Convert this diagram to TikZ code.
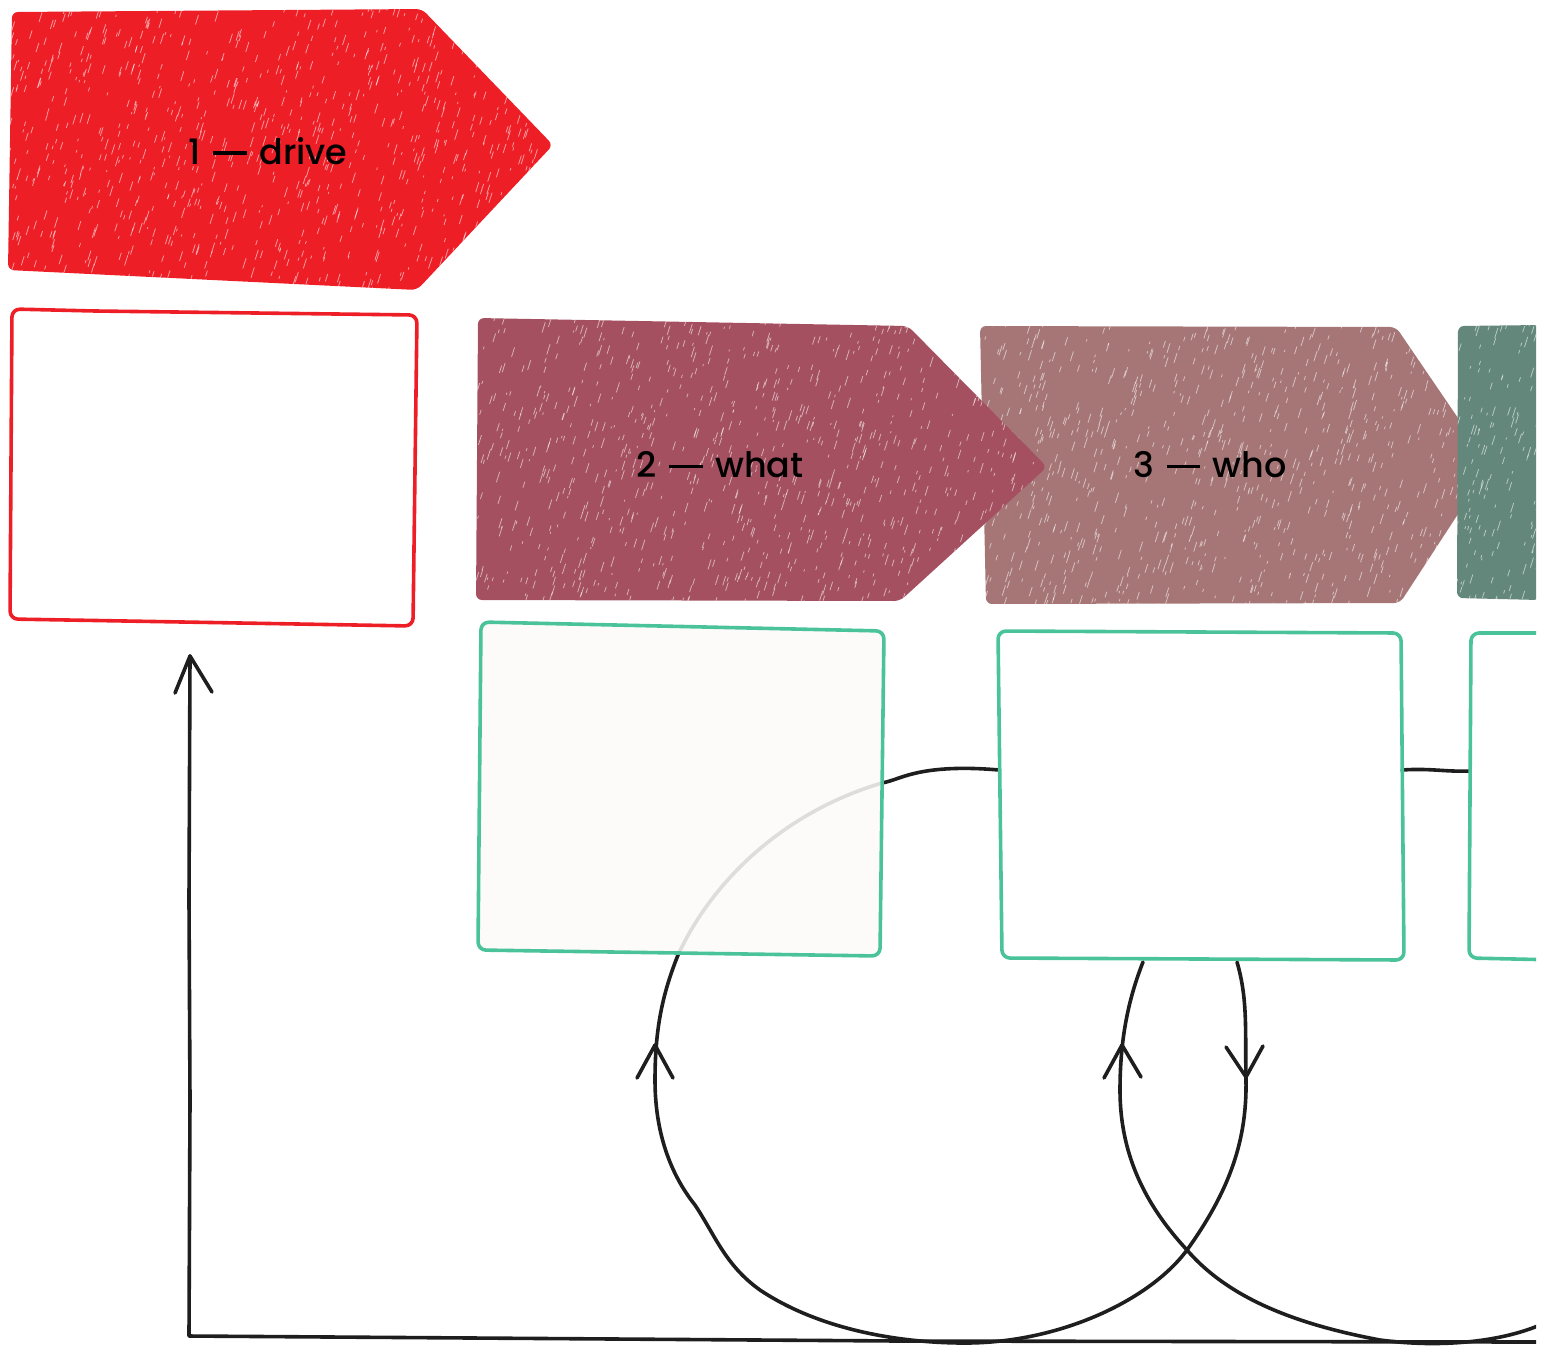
\documentclass[tikz,border=0pt]{standalone}
\usepackage{fontspec}
\setmainfont{Poppins}
\newfontfamily\lblfont{Poppins Medium}
\definecolor{redc}{HTML}{EE1E27}
\definecolor{whatc}{HTML}{A45060}
\definecolor{whoc}{HTML}{A67677}
\definecolor{greenc}{HTML}{63877A}
\definecolor{tealc}{HTML}{4AC39B}
\definecolor{ink}{HTML}{1E1E1E}
\definecolor{paper}{HTML}{FBFAF8}
\newcommand\crayontex[5]{%
  \foreach \k in {1,...,#5}{%
    \pgfmathsetmacro\cx{#1+rnd*#3}%
    \pgfmathsetmacro\cy{#2+rnd*#4}%
    \pgfmathsetmacro\cl{2+rnd*9}%
    \draw[white, opacity=0.55, line width=0.4pt] (\cx,\cy) -- ++(0.3*\cl,-0.95*\cl);
  }}
\newcommand\emd{\hspace{0.1em}\rule[0.27em]{0.95em}{0.1em}\hspace{0.1em}}
\begin{document}
\begin{tikzpicture}[x=0.5pt,y=-0.5pt,
  conn/.style={draw=ink, line width=1.8pt, line cap=round, line join=round},
  outbox/.style={line width=1.8pt, line join=round, rounded corners=4pt},
  lbl/.style={font=\lblfont\fontsize{17.5}{20}\selectfont, text=black, inner sep=0pt}]
\useasboundingbox (0,0) rectangle (1547,1346);
\clip (0,0) rectangle (1536,1346);
\pgfmathsetseed{7}

% ---- arrow shapes (3 below green, 2 above 3)
\begin{scope}
  \clip[rounded corners=3pt] (980,326) -- (1396,327) -- (1490,465) -- (1400,603) -- (986,604) -- cycle;
  \fill[whoc] (970,320) rectangle (1500,610);
  \crayontex{960}{320}{540}{300}{900}
\end{scope}
\begin{scope}
  \clip[rounded corners=3pt] (1458,326) -- (1540,325) -- (1540,600) -- (1457,598) -- cycle;
  \fill[greenc] (1450,320) rectangle (1540,610);
  \crayontex{1440}{320}{100}{300}{180}
\end{scope}
\begin{scope}
  \clip[rounded corners=3pt] (478,318) -- (908,326) -- (1047,467) -- (900,601) -- (476,600) -- cycle;
  \fill[whatc] (470,310) rectangle (1050,610);
  \crayontex{450}{310}{600}{300}{950}
\end{scope}
\begin{scope}
  \clip[rounded corners=3pt] (12,12) -- (422,9) -- (553,145) -- (417,290) -- (8,270) -- cycle;
  \fill[redc] (0,0) rectangle (560,300);
  \crayontex{-20}{0}{580}{300}{1000}
\end{scope}

\node[lbl] (t1) at (268,151) {1 \emd{} drive};
\node[lbl] (t2) at (720,465) {2 \emd{} what};
\node[lbl] (t3) at (1210,465) {3 \emd{} who};

% ---- anchor coordinates on boxes
\coordinate (b3w) at (999,770);
\coordinate (b2s) at (678,955);
\coordinate (b3sa) at (1237,962);
\coordinate (b3sb) at (1143,962);
\coordinate (b3e) at (1402,770);
\coordinate (b4w) at (1470,771);
\coordinate (b1s) at (190,656);
\coordinate (offr) at (1540,1342);
\coordinate (offr2) at (1540,1325);

% ---- connectors (drawn before boxes)
\draw[conn] (b3w) .. controls (965,767) and (935,768) .. (912,774)
  .. controls (900,777) and (892,781) .. (882,783)
  .. controls (790,810) and (715,875) .. (b2s)
  .. controls (662,995) and (655,1030) .. (655,1080)
  .. controls (655,1140) and (675,1180) .. (695,1205)
  .. controls (715,1235) and (725,1265) .. (760,1290)
  .. controls (820,1330) and (900,1343) .. (965,1343)
  .. controls (1060,1343) and (1150,1300) .. (1187,1250)
  .. controls (1230,1190) and (1247,1140) .. (1246,1080)
  .. controls (1245,1030) and (1248,1000) .. (b3sa);
\draw[conn] (b3sb) .. controls (1128,1000) and (1120,1040) .. (1120,1090)
  .. controls (1120,1160) and (1150,1210) .. (1187,1250)
  .. controls (1230,1300) and (1300,1325) .. (1380,1340)
  .. controls (1440,1348) and (1500,1342) .. (offr2);
\draw[conn] (b3e) .. controls (1430,768) and (1445,772) .. (b4w);
\draw[conn] (offr) -- (900,1341) -- (189,1336) -- (190,1100) -- (189,900) -- (b1s);

% arrowheads (open V)
\draw[conn] (175,693) -- (b1s) -- (212,692);
\draw[conn] (637,1078) -- (655,1045) -- (673,1078);
\draw[conn] (1104,1078) -- (1122,1045) -- (1141,1077);
\draw[conn] (1226,1047) -- (1246,1077) -- (1263,1046);

% ---- boxes
\draw[outbox, draw=redc] (12,309) -- (95,311) -- (417,315) -- (413,626) -- (10,619) -- cycle;
\fill[paper, fill opacity=0.87] (481,622) -- (884,631) -- (880,956) -- (478,950) -- cycle;
\draw[outbox, draw=tealc] (481,622) -- (884,631) -- (880,956) -- (478,950) -- cycle;
\draw[outbox, draw=tealc] (998,631) -- (1401,633) -- (1404,960) -- (1002,958) -- cycle;
\draw[outbox, draw=tealc] (1560,633) -- (1471,633) -- (1469,958) -- (1560,960);
\end{tikzpicture}
\end{document}
